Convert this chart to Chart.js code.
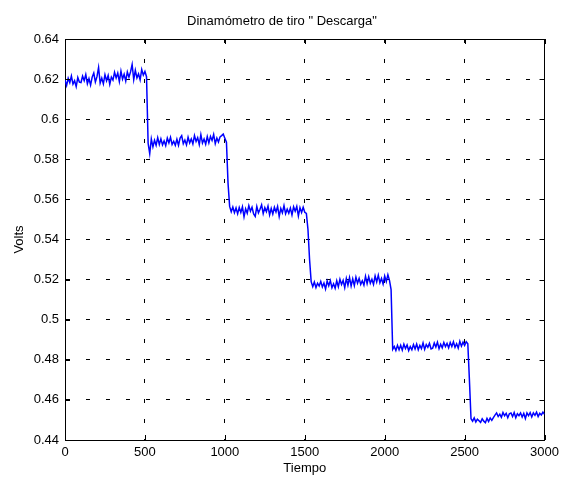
<!DOCTYPE html>
<html>
<head>
<meta charset="utf-8">
<script src="https://cdn.jsdelivr.net/npm/chart.js@4.4.1/dist/chart.umd.min.js"></script>
<style>
  body { margin: 0; background: #fff; }
</style>
</head>
<body>
<canvas id="dinamometro" width="564" height="481"></canvas>
<script>
    // sample step of the record (Tiempo units)
    const paso = 10;
    const xTicks = [0, 500, 1000, 1500, 2000, 2500, 3000];
    const yTicks = [0.44, 0.46, 0.48, 0.5, 0.52, 0.54, 0.56, 0.58, 0.6, 0.62, 0.64];

    // Volts, one value every 10 units of Tiempo
    const volts = [
        0.6195, 0.6168, 0.6204, 0.6182, 0.6215, 0.6175, 0.6192, 0.6163, 0.6208, 0.6185, // 0
        0.6183, 0.6215, 0.6192, 0.6223, 0.6177, 0.6203, 0.6170, 0.6210, 0.6230, 0.6185, // 100
        0.6212, 0.6258, 0.6180, 0.6205, 0.6176, 0.6222, 0.6192, 0.6218, 0.6174, 0.6210, // 200
        0.6195, 0.6234, 0.6206, 0.6230, 0.6188, 0.6240, 0.6200, 0.6224, 0.6190, 0.6236, // 300
        0.6210, 0.6236, 0.6273, 0.6198, 0.6244, 0.6206, 0.6226, 0.6196, 0.6248, 0.6220, // 400
        0.6238, 0.6212, 0.5880, 0.5828, 0.5902, 0.5862, 0.5895, 0.5870, 0.5908, 0.5874, // 500
        0.5902, 0.5872, 0.5892, 0.5868, 0.5906, 0.5882, 0.5910, 0.5874, 0.5890, 0.5870, // 600
        0.5900, 0.5870, 0.5906, 0.5918, 0.5878, 0.5896, 0.5872, 0.5910, 0.5882, 0.5902, // 700
        0.5877, 0.5918, 0.5889, 0.5908, 0.5873, 0.5923, 0.5881, 0.5901, 0.5875, 0.5913, // 800
        0.5882, 0.5914, 0.5894, 0.5924, 0.5878, 0.5906, 0.5886, 0.5912, 0.5918, 0.5926, // 900
        0.5905, 0.5885, 0.5680, 0.5565, 0.5538, 0.5562, 0.5534, 0.5558, 0.5528, 0.5560, // 1000
        0.5535, 0.5563, 0.5513, 0.5553, 0.5531, 0.5569, 0.5541, 0.5561, 0.5527, 0.5515, // 1100
        0.5565, 0.5533, 0.5551, 0.5573, 0.5529, 0.5559, 0.5539, 0.5567, 0.5523, 0.5555, // 1200
        0.5527, 0.5561, 0.5537, 0.5565, 0.5515, 0.5555, 0.5533, 0.5569, 0.5529, 0.5551, // 1300
        0.5531, 0.5557, 0.5523, 0.5563, 0.5541, 0.5565, 0.5517, 0.5559, 0.5535, 0.5561, // 1400
        0.5536, 0.5530, 0.5450, 0.5300, 0.5190, 0.5165, 0.5188, 0.5160, 0.5182, 0.5168, // 1500
        0.5191, 0.5163, 0.5183, 0.5153, 0.5193, 0.5169, 0.5195, 0.5159, 0.5179, 0.5157, // 1600
        0.5194, 0.5164, 0.5202, 0.5176, 0.5196, 0.5160, 0.5206, 0.5172, 0.5210, 0.5168, // 1700
        0.5204, 0.5170, 0.5212, 0.5182, 0.5206, 0.5176, 0.5194, 0.5172, 0.5216, 0.5180, // 1800
        0.5214, 0.5182, 0.5202, 0.5176, 0.5218, 0.5188, 0.5222, 0.5184, 0.5206, 0.5178, // 1900
        0.5218, 0.5190, 0.5224, 0.5196, 0.5150, 0.4852, 0.4866, 0.4846, 0.4872, 0.4850, // 2000
        0.4872, 0.4848, 0.4878, 0.4856, 0.4874, 0.4846, 0.4866, 0.4850, 0.4876, 0.4854, // 2100
        0.4878, 0.4850, 0.4872, 0.4856, 0.4884, 0.4852, 0.4876, 0.4862, 0.4882, 0.4854, // 2200
        0.4858, 0.4884, 0.4864, 0.4888, 0.4856, 0.4878, 0.4860, 0.4886, 0.4866, 0.4882, // 2300
        0.4860, 0.4886, 0.4866, 0.4890, 0.4862, 0.4880, 0.4858, 0.4892, 0.4868, 0.4888, // 2400
        0.4872, 0.4890, 0.4880, 0.4700, 0.4506, 0.4494, 0.4510, 0.4490, 0.4504, 0.4496, // 2500
        0.4488, 0.4506, 0.4494, 0.4486, 0.4508, 0.4492, 0.4510, 0.4498, 0.4512, 0.4524, // 2600
        0.4535, 0.4517, 0.4529, 0.4513, 0.4537, 0.4521, 0.4533, 0.4511, 0.4531, 0.4535, // 2700
        0.4517, 0.4537, 0.4511, 0.4531, 0.4521, 0.4535, 0.4515, 0.4533, 0.4507, 0.4535, // 2800
        0.4521, 0.4537, 0.4515, 0.4535, 0.4523, 0.4539, 0.4517, 0.4533, 0.4525, 0.4539, // 2900
        0.4528                                                                          // 3000
    ];

    const puntos = volts.map((v, i) => ({ x: i * paso, y: v }));

    const fuente = "'Liberation Sans', Arial, sans-serif";

    // MATLAB style tick marks pointing into the plot box
    const ticksDentro = {
        id: 'ticksDentro',
        afterDraw(chart) {
            const { ctx, chartArea: a, scales } = chart;
            const len = 5;
            ctx.save();
            ctx.strokeStyle = '#000';
            ctx.lineWidth = 1;
            ctx.beginPath();
            xTicks.forEach(t => {
                const px = Math.round(scales.x.getPixelForValue(t)) + 0.5;
                ctx.moveTo(px, a.bottom); ctx.lineTo(px, a.bottom - len);
                ctx.moveTo(px, a.top); ctx.lineTo(px, a.top + len);
            });
            yTicks.forEach(t => {
                const py = Math.round(scales.y.getPixelForValue(t)) + 0.5;
                ctx.moveTo(a.left, py); ctx.lineTo(a.left + len, py);
                ctx.moveTo(a.right, py); ctx.lineTo(a.right - len, py);
            });
            ctx.stroke();
            ctx.restore();
        }
    };

    const ctx = document.getElementById('dinamometro').getContext('2d');
    new Chart(ctx, {
        type: 'line',
        data: {
            datasets: [{
                data: puntos,
                borderColor: '#0000ff',
                borderWidth: 1.5,
                pointRadius: 0,
                tension: 0,
                fill: false
            }]
        },
        options: {
            responsive: false,
            animation: false,
            layout: { padding: 0 },
            plugins: {
                legend: { display: false },
                tooltip: { enabled: false },
                title: {
                    display: true,
                    text: 'Dinamómetro de tiro " Descarga"',
                    color: '#000',
                    font: { family: fuente, size: 13, weight: 'normal', lineHeight: 1.2 },
                    padding: { top: 14, bottom: 0 }
                }
            },
            scales: {
                x: {
                    type: 'linear',
                    position: 'bottom',
                    min: 0,
                    max: 3000,
                    afterBuildTicks: s => { s.ticks = xTicks.map(v => ({ value: v })); },
                    afterFit: s => { s.height = 41; },
                    ticks: {
                        color: '#000',
                        padding: 5,
                        maxRotation: 0,
                        font: { family: fuente, size: 13 },
                        callback: v => String(v)
                    },
                    grid: { color: '#000', lineWidth: 1, drawTicks: false },
                    border: { display: true, color: '#000', width: 1, dash: [4, 16] },
                    title: {
                        display: true,
                        text: 'Tiempo',
                        color: '#000',
                        font: { family: fuente, size: 13 },
                        padding: { top: 0, bottom: 5 }
                    }
                },
                y: {
                    type: 'linear',
                    position: 'left',
                    min: 0.44,
                    max: 0.64,
                    afterBuildTicks: s => { s.ticks = yTicks.map(v => ({ value: v })); },
                    afterFit: s => { s.width = 65; },
                    ticks: {
                        color: '#000',
                        padding: 6,
                        font: { family: fuente, size: 13 },
                        callback: v => String(Number(v.toFixed(2)))
                    },
                    grid: { color: '#000', lineWidth: 1, drawTicks: false },
                    border: { display: true, color: '#000', width: 1, dash: [4, 16] },
                    title: {
                        display: true,
                        text: 'Volts',
                        color: '#000',
                        font: { family: fuente, size: 13 },
                        padding: { top: 12, bottom: 0 }
                    }
                },
                x2: {
                    type: 'linear',
                    position: 'top',
                    min: 0,
                    max: 3000,
                    afterFit: s => { s.height = 9.4; },
                    ticks: { display: false },
                    grid: { display: false, drawTicks: false },
                    border: { display: true, color: '#000', width: 1 }
                },
                y2: {
                    type: 'linear',
                    position: 'right',
                    min: 0.44,
                    max: 0.64,
                    afterFit: s => { s.width = 18; },
                    ticks: { display: false },
                    grid: { display: false, drawTicks: false },
                    border: { display: true, color: '#000', width: 1 }
                }
            }
        },
        plugins: [ticksDentro]
    });
</script>
</body>
</html>
